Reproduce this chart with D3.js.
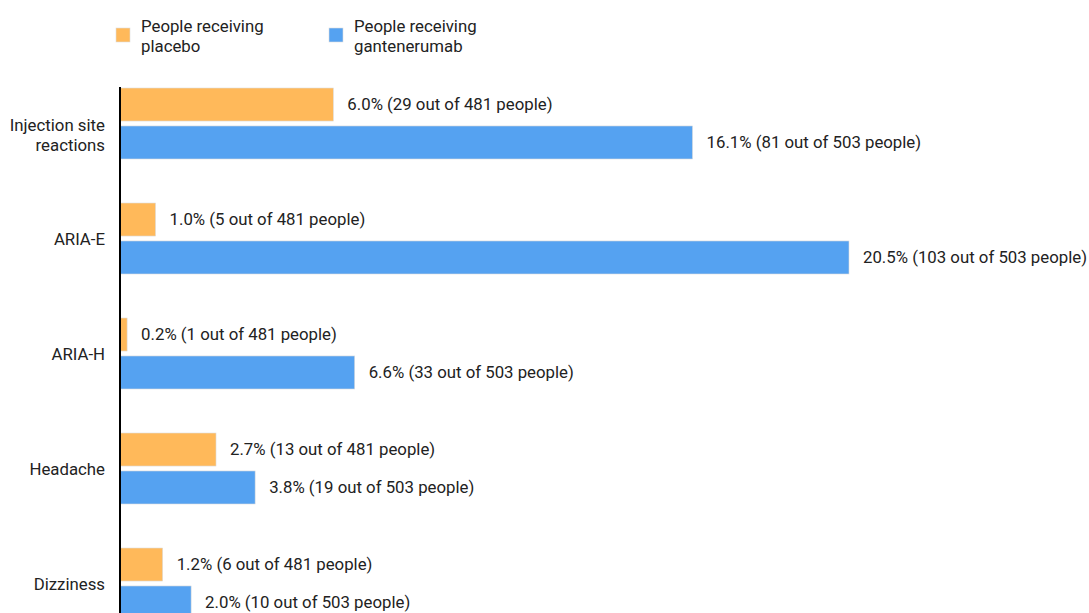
<!DOCTYPE html>
<html>
<head>
<meta charset="utf-8">
<script src="https://cdn.jsdelivr.net/npm/d3@7"></script>
<style>
  body { margin: 0; background: #fff; }
  svg { display: block; font-family: Roboto, "Liberation Sans", sans-serif; }
</style>
</head>
<body>
<svg id="chart" width="1089" height="613"></svg>
<script>
// categories and values (percent of people)
const categories = [["Injection site", "reactions"], ["ARIA-E"], ["ARIA-H"], ["Headache"], ["Dizziness"]];
const series = ["placebo", "gantenerumab"];
const seriesLabels = [["People receiving", "placebo"], ["People receiving", "gantenerumab"]];
const placeboPct = [6.0, 1.0, 0.2, 2.7, 1.2];
const placeboCount = [29, 5, 1, 13, 6];
const gantPct = [16.1, 20.5, 6.6, 3.8, 2.0];
const gantCount = [81, 103, 33, 19, 10];
const placeboTotal = 481, gantTotal = 503;

const colors = { placebo: "#ffb95a", gantenerumab: "#55a2f1" };

const width = 1089, height = 613;
const fontSize = 16.8;
const svg = d3.select('#chart');

const x = d3.scaleLinear().domain([0, 20.5]).range([120, 849]);

const y = d3.scaleBand()
  .domain(d3.range(categories.length))
  .range([88, 88 + 115 * categories.length]);

const ySub = d3.scaleBand()
  .domain(series)
  .range([0, 71])
  .paddingInner(0.13);

const rows = categories.map((c, i) => ({
  name: c,
  i: i,
  vals: [
    { key: "placebo", pct: placeboPct[i], n: placeboCount[i], total: placeboTotal },
    { key: "gantenerumab", pct: gantPct[i], n: gantCount[i], total: gantTotal }
  ]
}));

const g = svg.selectAll('g.row')
  .data(rows)
  .join('g')
  .attr('class', 'row')
  .attr('transform', d => `translate(0,${y(d.i)})`);

g.selectAll('rect')
  .data(d => d.vals)
  .join('rect')
  .attr('x', x(0))
  .attr('y', d => ySub(d.key))
  .attr('width', d => x(d.pct) - x(0))
  .attr('height', ySub.bandwidth())
  .attr('fill', d => colors[d.key])
  .attr('stroke', '#dcdcdc')
  .attr('stroke-width', 0.6);

g.selectAll('text.val')
  .data(d => d.vals)
  .join('text')
  .attr('class', 'val')
  .attr('x', d => x(d.pct) + 14)
  .attr('y', d => ySub(d.key) + ySub.bandwidth() / 2)
  .attr('dy', '0.35em')
  .attr('font-size', fontSize)
  .attr('fill', '#222')
  .text(d => `${d.pct.toFixed(1)}% (${d.n} out of ${d.total} people)`);

// category labels
g.append('text')
  .attr('class', 'cat')
  .attr('text-anchor', 'end')
  .attr('font-size', fontSize)
  .attr('fill', '#222')
  .selectAll('tspan')
  .data(d => d.name.map((t, k) => ({ t, k, n: d.name.length })))
  .join('tspan')
  .attr('x', 105)
  .attr('y', d => (d.n > 1 ? 47.5 : 36) + (d.k - (d.n - 1) / 2) * 20)
  .attr('dy', '0.35em')
  .text(d => d.t);

// axis line
svg.append('line')
  .attr('x1', x(0)).attr('x2', x(0))
  .attr('y1', 87).attr('y2', height)
  .attr('stroke', '#000')
  .attr('stroke-width', 2);

// legend
const legendX = [116, 329];
const lg = svg.selectAll('g.legend')
  .data(series)
  .join('g')
  .attr('class', 'legend')
  .attr('transform', (d, i) => `translate(${legendX[i]},0)`);

lg.append('rect')
  .attr('x', 0).attr('y', 28)
  .attr('width', 14).attr('height', 14)
  .attr('fill', d => colors[d])
  .attr('stroke', '#dcdcdc')
  .attr('stroke-width', 0.6);

lg.append('text')
  .attr('font-size', fontSize)
  .attr('fill', '#222')
  .selectAll('tspan')
  .data((d, i) => seriesLabels[i])
  .join('tspan')
  .attr('x', 25)
  .attr('y', (d, i) => 32 + i * 20)
  .text(d => d);
</script>
</body>
</html>
